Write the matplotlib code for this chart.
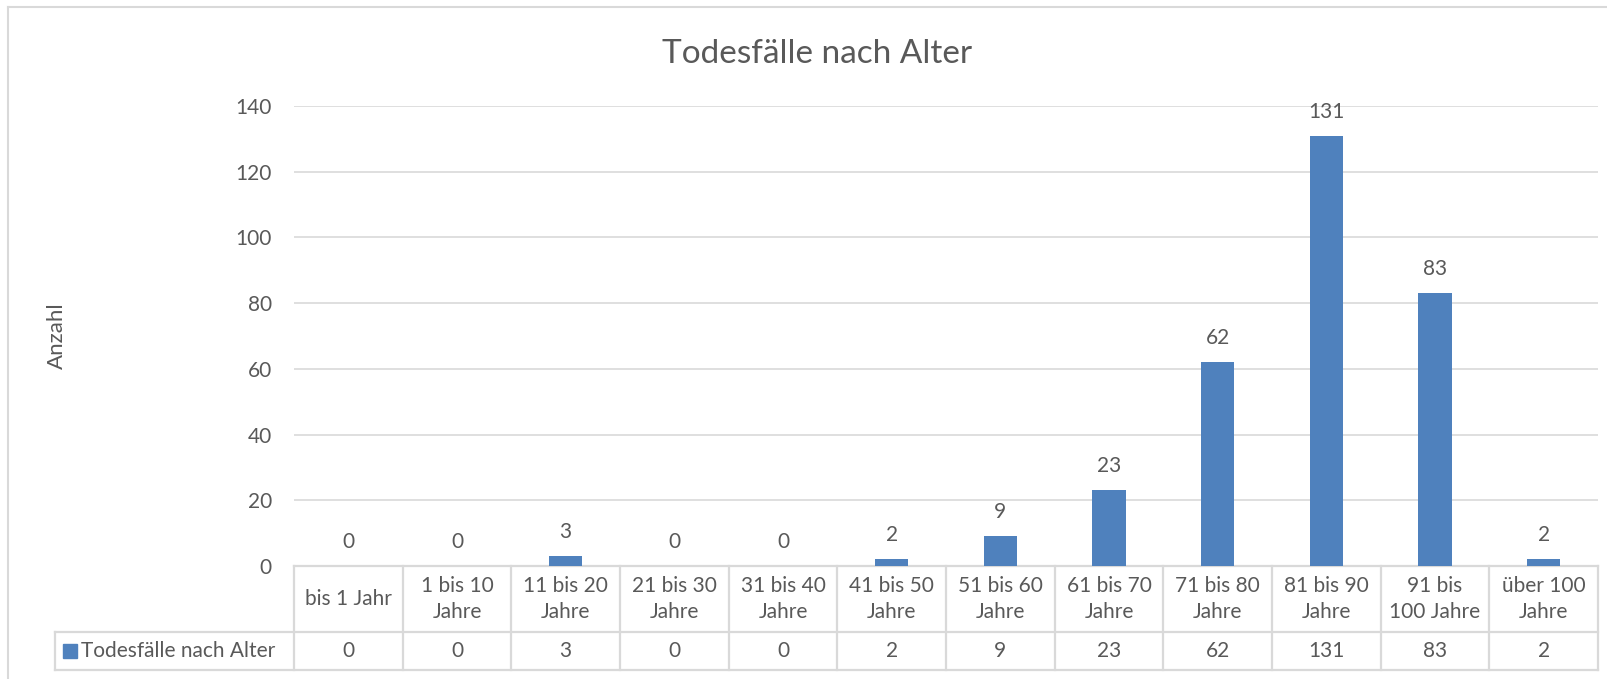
import matplotlib
matplotlib.use("Agg")
import matplotlib.pyplot as plt
from matplotlib.lines import Line2D
from matplotlib.transforms import blended_transform_factory

# data
categories = ["bis 1 Jahr", "1 bis 10\nJahre", "11 bis 20\nJahre", "21 bis 30\nJahre",
              "31 bis 40\nJahre", "41 bis 50\nJahre", "51 bis 60\nJahre", "61 bis 70\nJahre",
              "71 bis 80\nJahre", "81 bis 90\nJahre", "91 bis\n100 Jahre", "über 100\nJahre"]
deaths = [0, 0, 3, 0, 0, 2, 9, 23, 62, 131, 83, 2]
series_name = "Todesfälle nach Alter"
title = "Todesfälle nach Alter"
y_label = "Anzahl"
y_ticks = [0, 20, 40, 60, 80, 100, 120, 140]

TEXT = "#595959"
GRID = "#D9D9D9"
BAR = "#4F81BD"
FS = 15
plt.rcParams['font.family'] = ['Lato', 'DejaVu Sans']

W, H = 1607, 679
fig = plt.figure(figsize=(W / 100, H / 100), dpi=100)
fig.patch.set_facecolor("white")

# plot area in pixels: x 294..1598, y 106..566
ax = fig.add_axes([294 / W, (H - 566) / H, 1304 / W, 460 / H])
x = list(range(len(categories)))
ax.bar(x, deaths, width=0.305, color=BAR, zorder=3)
ax.set_xlim(-0.5, len(categories) - 0.5)
ax.set_ylim(0, 140)
ax.set_yticks(y_ticks)
ax.set_xticks([])
ax.tick_params(axis="y", length=0, pad=16, labelsize=FS, labelcolor=TEXT)
ax.grid(axis="y", color=GRID, linewidth=1.2, zorder=0)
for s in ax.spines.values():
    s.set_visible(False)

# data labels
for xi, v in zip(x, deaths):
    ax.annotate(str(v), (xi, v), xytext=(0, 13), textcoords="offset points",
                ha="center", va="baseline", fontsize=FS, color=TEXT)

# data table below the plot
tr = blended_transform_factory(ax.transData, ax.transAxes)
row1 = -66 / 460
row2 = -103.5 / 460
left = -0.5 - (294 - 55) / (1304 / len(categories))
right = len(categories) - 0.5
lk = dict(color=GRID, linewidth=1.6, transform=tr, clip_on=False)
ax.add_line(Line2D([-0.5, right], [0, 0], **lk))
ax.add_line(Line2D([left, right], [row1, row1], **lk))
ax.add_line(Line2D([left, right], [row2, row2], **lk))
ax.add_line(Line2D([left, left], [row1, row2], **lk))
for i in range(len(categories) + 1):
    ax.add_line(Line2D([i - 0.5, i - 0.5], [0, row2], **lk))
for xi, cat, v in zip(x, categories, deaths):
    ax.text(xi, row1 / 2, cat, transform=tr, ha="center", va="center",
            fontsize=FS, color=TEXT, linespacing=1.4, clip_on=False)
    ax.text(xi, (row1 + row2) / 2, str(v), transform=tr, ha="center", va="center",
            fontsize=FS, color=TEXT, clip_on=False)

# legend key in table
fig.patches.append(plt.Rectangle((63 / W, (H - 658) / H), 14 / W, 14 / H,
                                 transform=fig.transFigure, color=BAR))
fig.text(81 / W, (H - 651) / H, series_name, ha="left", va="center",
         fontsize=FS, color=TEXT)

# title and axis label
fig.text(817 / W, (H - 63) / H, title, ha="center", va="baseline",
         fontsize=24, color=TEXT)
fig.text(57 / W, (H - 336) / H, y_label, ha="center", va="center",
         rotation=90, fontsize=16, color=TEXT)

# chart border (left and top visible)
fig.lines.append(Line2D([8 / W, 8 / W], [0, (H - 7) / H], color=GRID,
                        linewidth=1.5, transform=fig.transFigure))
fig.lines.append(Line2D([8 / W, 1], [(H - 7) / H, (H - 7) / H], color=GRID,
                        linewidth=1.5, transform=fig.transFigure))

fig.savefig("out.png", dpi=100)
